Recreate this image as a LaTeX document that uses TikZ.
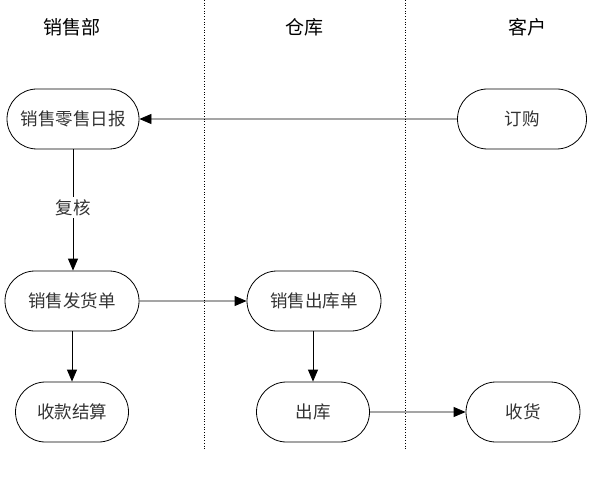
\documentclass[tikz,border=0pt]{standalone}
\usepackage{fontspec}
\setmainfont{Noto Sans CJK SC}
\usetikzlibrary{arrows.meta,shapes.misc}
\definecolor{txt}{HTML}{333333}
\tikzset{
  proc/.style={draw=black, line width=0.8pt, rounded rectangle, minimum height=60pt, inner sep=0pt, text=txt, font=\fontsize{17.5}{17.5}\selectfont},
  flow/.style={draw=black, line width=0.8pt, -{Triangle[length=12pt,width=10pt]}},
  lane/.style={draw=black, line width=0.7pt, dotted},
  head/.style={font=\fontsize{19}{19}\selectfont, text=black},
  lbl/.style={fill=white, text=txt, font=\fontsize{17.5}{17.5}\selectfont, inner sep=2pt},
}
\begin{document}
\begin{tikzpicture}[x=1pt,y=-1pt]
\useasboundingbox (0,0) rectangle (593,478);
\draw[lane] (204,0) -- (204,450);
\draw[lane] (405,0) -- (405,450);
\node[head] (h1) at (72,27) {销售部};
\node[head] (h2) at (304,27) {仓库};
\node[head] (h3) at (527,27) {客户};
\node[proc, minimum width=132pt] (ribao) at (73,119) {销售零售日报};
\node[proc, minimum width=129pt] (dinggou) at (522,119) {订购};
\node[proc, minimum width=134pt] (fahuo) at (72,301) {销售发货单};
\node[proc, minimum width=113pt] (shoukuan) at (72,412) {收款结算};
\node[proc, minimum width=134pt] (chukudan) at (314,301) {销售出库单};
\node[proc, minimum width=113pt] (chuku) at (313,412) {出库};
\node[proc, minimum width=114pt] (shouhuo) at (523,412) {收货};
\draw[flow] (dinggou) -- (ribao);
\draw[flow] (ribao.south -| 73,0) -- node[lbl, pos=0.48] {复核} (fahuo.north -| 73,0);
\draw[flow] (fahuo) -- (chukudan);
\draw[flow] (fahuo.south -| 72,0) -- (shoukuan.north -| 72,0);
\draw[flow] (chukudan.south -| 313,0) -- (chuku.north -| 313,0);
\draw[flow] (chuku) -- (shouhuo);
\end{tikzpicture}
\end{document}
